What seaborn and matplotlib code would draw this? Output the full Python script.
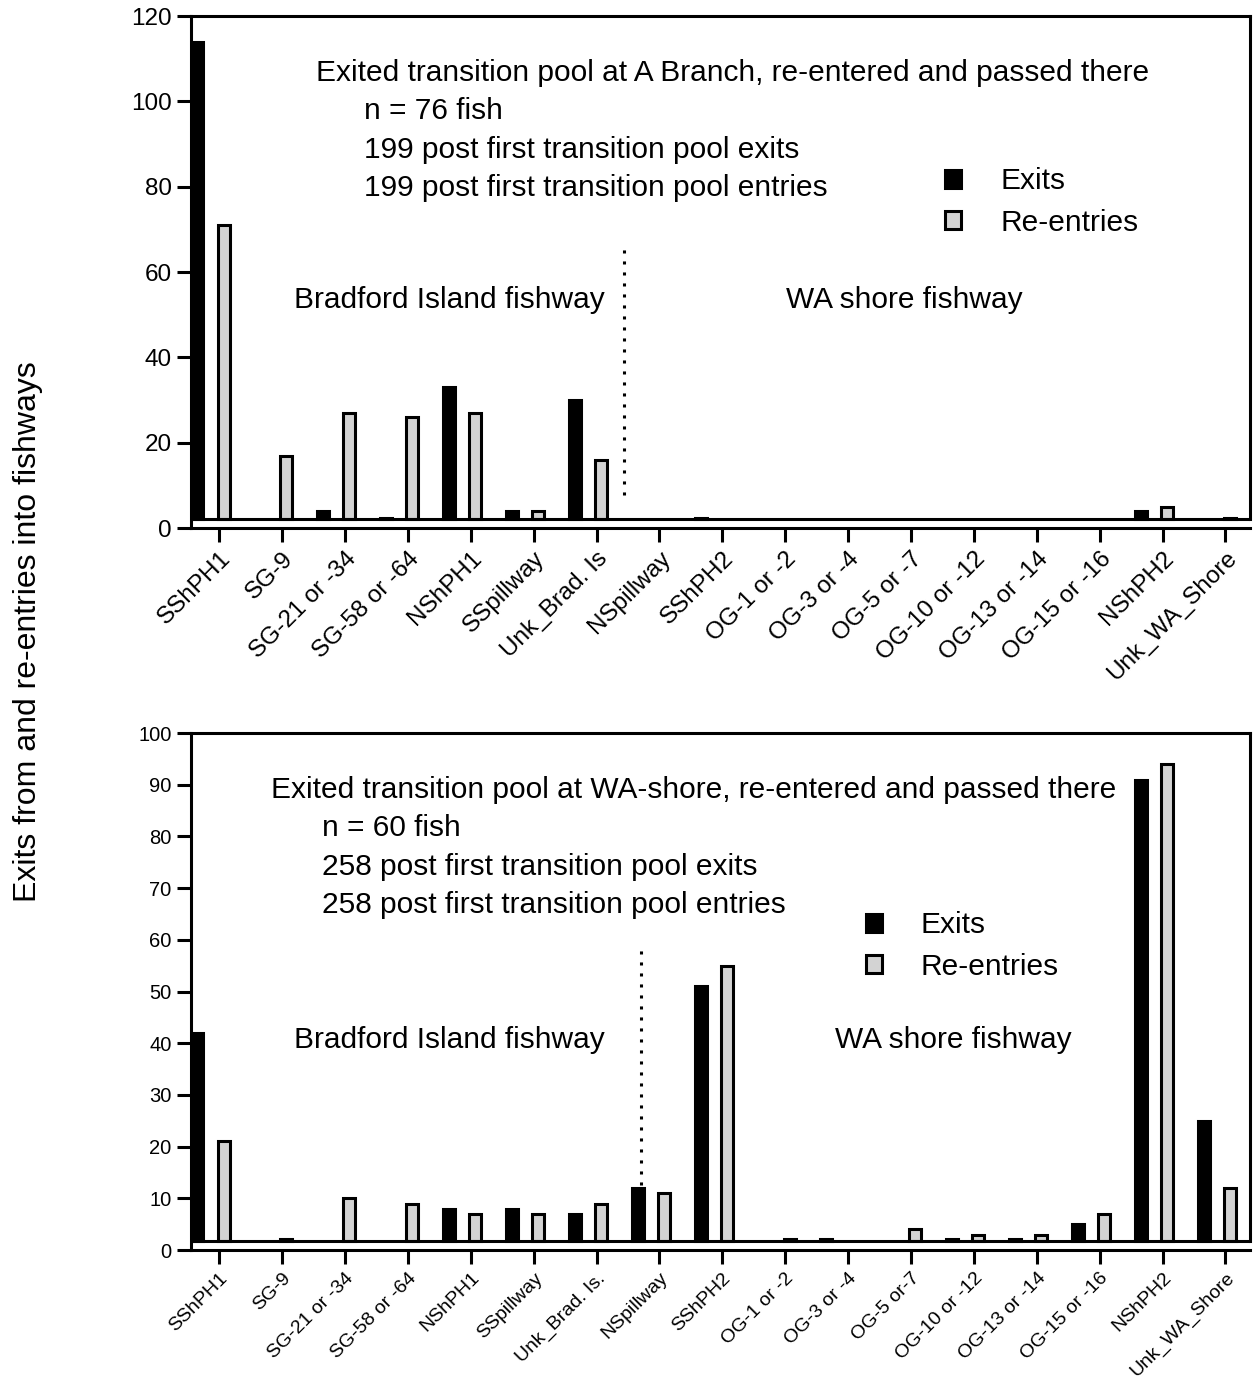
import numpy as np
import pandas as pd
import matplotlib
matplotlib.use("Agg")
import matplotlib.pyplot as plt
from matplotlib.patches import Patch
import seaborn as sns

# openings along the dam, left to right
sites_a = ["SShPH1", "SG-9", "SG-21 or -34", "SG-58 or -64", "NShPH1", "SSpillway",
           "Unk_Brad. Is", "NSpillway", "SShPH2", "OG-1 or -2", "OG-3 or -4",
           "OG-5 or -7", "OG-10 or -12", "OG-13 or -14", "OG-15 or -16", "NShPH2",
           "Unk_WA_Shore"]
sites_wa = ["SShPH1", "SG-9", "SG-21 or -34", "SG-58 or -64", "NShPH1", "SSpillway",
            "Unk_Brad. Is.", "NSpillway", "SShPH2", "OG-1 or -2", "OG-3 or -4",
            "OG-5 or-7", "OG-10 or -12", "OG-13 or -14", "OG-15 or -16", "NShPH2",
            "Unk_WA_Shore"]

# passed at A Branch
exits_a = [114, 0, 4, 1, 33, 4, 30, 0, 1, 0, 0, 0, 0, 0, 0, 4, 0]
reent_a = [71, 17, 27, 26, 27, 4, 16, 0, 0, 0, 0, 0, 0, 0, 0, 5, 1]

# passed at WA shore
exits_wa = [42, 0, 0, 0, 8, 8, 7, 12, 51, 0, 1, 0, 1, 1, 5, 91, 25]
reent_wa = [21, 1, 10, 9, 7, 7, 9, 11, 55, 1, 0, 4, 3, 3, 7, 94, 12]

notes_a = ["Exited transition pool at A Branch, re-entered and passed there",
           "n = 76 fish",
           "199 post first transition pool exits",
           "199 post first transition pool entries"]
notes_wa = ["Exited transition pool at WA-shore, re-entered and passed there",
            "n = 60 fish",
            "258 post first transition pool exits",
            "258 post first transition pool entries"]

kinds = ["Exits", "Re-entries"]
palette = {"Exits": "black", "Re-entries": "#d3d3d3"}
LW = 2.2
FS = 21.5

sns.set_style("ticks")
plt.rcParams["font.family"] = ["Liberation Sans", "DejaVu Sans"]
plt.rcParams.update({"text.color": "black", "axes.labelcolor": "black",
                     "xtick.color": "black", "ytick.color": "black",
                     "axes.edgecolor": "black"})


def draw_panel(ax, sites, exits, reent, base, ymax, ystep, notes, note_xy,
               fish_xy, divider, leg_anchor, xfs, yfs):
    n = len(sites)
    df = pd.DataFrame({"site": sites * 2,
                       "kind": ["Exits"] * n + ["Re-entries"] * n,
                       "count": exits + reent})
    df = df[df["count"] > 0].copy()
    # bars stand on the frame baseline, a little above the offset x axis;
    # counts below it still show as a short stub
    df["height"] = (df["count"] - base).clip(lower=0.35)

    sns.barplot(data=df, x="site", y="height", hue="kind", order=sites,
                hue_order=kinds, palette=palette, width=0.83, gap=0.54,
                bottom=base, edgecolor="black", linewidth=LW,
                errorbar=None, legend=False, ax=ax)

    ax.set_xlim(-0.31, n - 0.47)
    ax.set_ylim(0, ymax)
    ax.set_xlabel("")
    ax.set_ylabel("")
    ax.set_yticks(np.arange(0, ymax + 1, ystep))
    ax.set_xticks(np.arange(n) + 0.14)
    ax.set_xticklabels(sites, rotation=45, ha="right", rotation_mode="anchor")
    ax.tick_params(axis="x", labelsize=xfs, length=10, width=LW, pad=4)
    ax.tick_params(axis="y", labelsize=yfs, length=10, width=LW, pad=4)

    for side in ["top", "right", "left", "bottom"]:
        ax.spines[side].set_visible(True)
        ax.spines[side].set_linewidth(LW)
    ax.spines["right"].set_bounds(base, ymax)
    ax.axhline(base, color="black", lw=LW, zorder=3)

    ax.text(note_xy[0], note_xy[1], notes[0], fontsize=FS, va="center")
    for i, s in enumerate(notes[1:]):
        ax.text(fish_xy[0], fish_xy[1] - i * fish_xy[2], s, fontsize=FS, va="center")

    dx, y0, y1, bx, wx, ty = divider
    ax.plot([dx, dx], [y0, y1], color="black", lw=2.2, linestyle=(0, (1, 2.6)))
    ax.text(bx, ty, "Bradford Island fishway", fontsize=FS, ha="center", va="center")
    ax.text(wx, ty, "WA shore fishway", fontsize=FS, ha="center", va="center")

    handles = [Patch(facecolor=palette[k], edgecolor="black", linewidth=LW) for k in kinds]
    ax.legend(handles, kinds, loc="upper left", bbox_to_anchor=leg_anchor,
              frameon=False, fontsize=FS, handlelength=0.55, handleheight=0.55,
              handletextpad=1.3, labelspacing=0.45, borderpad=0, borderaxespad=0)


fig = plt.figure(figsize=(12.54, 13.97), dpi=100)
ax1 = fig.add_axes([0.1523, 0.6220, 0.8445, 0.3665])
ax2 = fig.add_axes([0.1523, 0.1052, 0.8445, 0.3701])

draw_panel(ax1, sites_a, exits_a, reent_a, base=2.1, ymax=120, ystep=20,
           notes=notes_a, note_xy=(1.68, 106.6), fish_xy=(2.44, 97.7, 9.0),
           divider=(6.58, 7.7, 66.3, 3.795, 11.03, 53.4),
           leg_anchor=(0.712, 0.705), xfs=17.5, yfs=17.5)
draw_panel(ax2, sites_wa, exits_wa, reent_wa, base=1.75, ymax=100, ystep=10,
           notes=notes_wa, note_xy=(0.965, 89.0), fish_xy=(1.776, 81.6, 7.45),
           divider=(6.85, 12.6, 58.4, 3.795, 11.81, 40.6),
           leg_anchor=(0.637, 0.655), xfs=14, yfs=14.5)

fig.text(0.022, 0.548, "Exits from and re-entries into fishways", rotation=90,
         fontsize=23, ha="center", va="center")

fig.savefig("out.png", dpi=100)
